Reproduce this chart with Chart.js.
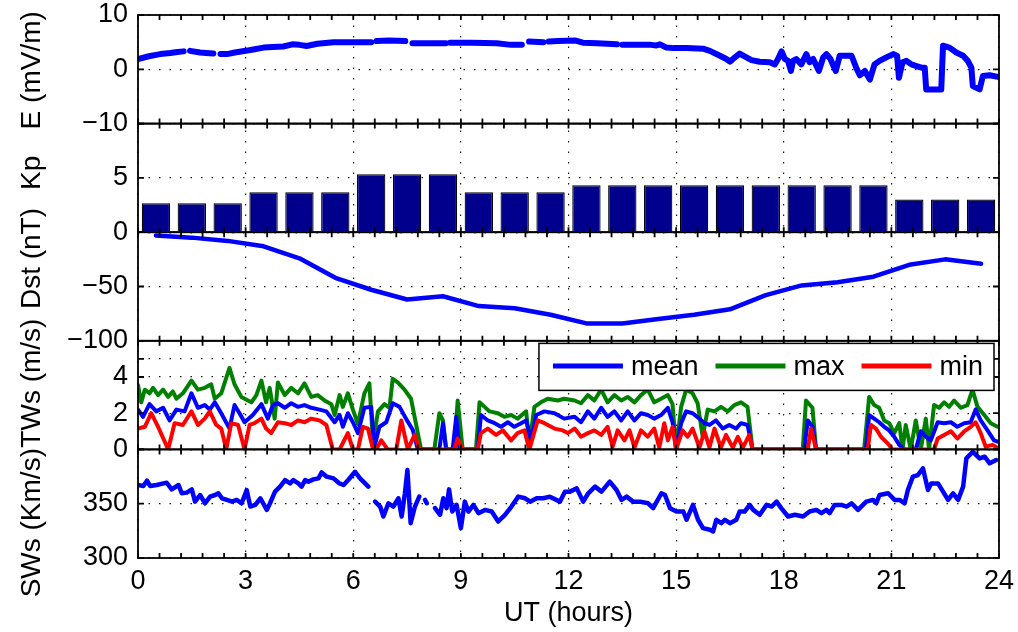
<!DOCTYPE html>
<html>
<head>
<meta charset="utf-8">
<title>E, Kp, Dst, TWs, SWs</title>
<script src="https://cdn.jsdelivr.net/npm/chart.js@4/dist/chart.umd.min.js"></script>
<style>
  html, body { margin: 0; padding: 0; background: #fff; }
  #wrap { width: 1018px; height: 632px; }
</style>
</head>
<body>
<div id="wrap"><canvas id="chart" width="1018" height="632"></canvas></div>
<script>
// x axis (UT hours)
const xTicks = [0, 3, 6, 9, 12, 15, 18, 21, 24];
const minorStep = 0.6;

// electric field, [hour, mV/m], null = data gap
const eField = [
  [0, 1.9], [0.3, 2.4], [0.62, 2.8], [0.9, 3.0], [1.1, 3.2], [1.27, 3.3], [1.33, null], [1.45, 3.4],
  [1.73, 3.1], [1.9, 3.0], [2.1, 2.9], [2.2, null], [2.3, 2.8], [2.48, 2.8], [2.7, 3.1], [3.0, 3.4],
  [3.25, 3.7], [3.5, 4.0], [3.75, 4.1], [4.05, 4.2], [4.3, 4.6], [4.5, 4.5], [4.7, 4.3], [5.0, 4.7],
  [5.45, 5.0], [6.0, 5.0], [6.5, 5.0], [6.58, null], [6.65, 5.2], [7.0, 5.3], [7.45, 5.2], [7.55, null],
  [7.65, 4.8], [8.2, 4.8], [8.58, 4.8], [8.64, null], [8.7, 4.9], [9.3, 4.9], [10.0, 4.8], [10.4, 4.5],
  [10.7, 4.5], [10.78, null], [10.9, 5.1], [11.3, 5.0], [11.38, null], [11.45, 5.1], [11.7, 5.2], [12.2, 5.3],
  [12.4, 4.9], [12.8, 4.8], [13.35, 4.6], [13.42, null], [13.5, 4.5], [14.3, 4.5], [14.45, 4.4], [14.55, 4.6],
  [14.73, 4.0], [14.92, 3.9], [15.3, 3.9], [15.75, 3.8], [15.94, 3.4], [16.22, 2.5], [16.4, 1.9], [16.5, 1.4],
  [16.64, 2.2], [16.77, 2.9], [16.96, 2.2], [17.1, 1.7], [17.33, 1.4], [17.61, 1.3], [17.75, 0.9], [17.84, 1.9],
  [17.94, 3.3], [18.03, 1.9], [18.12, 1.55], [18.2, -0.3], [18.26, 1.55], [18.35, 1.9], [18.49, 0.9], [18.63, 2.8],
  [18.72, 1.3], [18.82, 1.9], [18.98, -0.3], [19.1, 2.2], [19.19, 2.8], [19.3, 1.9], [19.45, -0.3], [19.56, 2.5],
  [19.75, 2.5], [19.89, 2.5], [20.02, 0.3], [20.12, -1.1], [20.26, -0.3], [20.4, -1.9], [20.53, 0.9], [20.67, 1.55],
  [20.86, 2.2], [21.05, 2.8], [21.16, 2.5], [21.21, -1.55], [21.31, 1.3], [21.42, 1.55], [21.56, 0.9], [21.7, 0.6],
  [21.84, 0.3], [21.93, 0.3], [21.97, -3.7], [22.39, -3.7], [22.44, 4.35], [22.62, 4.0], [22.81, 3.1], [23.0, 2.5],
  [23.13, 1.55], [23.23, 0.3], [23.27, -3.1], [23.46, -3.7], [23.55, -1.25], [23.74, -1.1], [23.97, -1.4]
];

// hourly Kp and Dst
const hourMid = [0.5, 1.5, 2.5, 3.5, 4.5, 5.5, 6.5, 7.5, 8.5, 9.5, 10.5, 11.5,
                 12.5, 13.5, 14.5, 15.5, 16.5, 17.5, 18.5, 19.5, 20.5, 21.5, 22.5, 23.5];
const kpValues = [2.67, 2.67, 2.67, 3.67, 3.67, 3.67, 5.33, 5.33, 5.33, 3.67, 3.67, 3.67,
                  4.33, 4.33, 4.33, 4.33, 4.33, 4.33, 4.33, 4.33, 4.33, 3, 3, 3];
const dstValues = [-3, -5, -8, -13, -24, -42, -53, -62, -59, -68, -70, -76,
                   -84, -84, -80, -76, -71, -58, -49, -46, -41, -30, -25, -29];

// TWs (m/s), [hour, value]
const twsMean = [
  [0, 2.2], [0.14, 1.8], [0.32, 2.5], [0.51, 2.1], [0.7, 2.3], [0.88, 1.6], [1.07, 2.2], [1.3, 2.1],
  [1.49, 3.1], [1.67, 2.3], [1.86, 2.45], [2.0, 2.2], [2.14, 2.6], [2.32, 2.0], [2.55, 1.15], [2.69, 2.45],
  [2.83, 2.0], [2.97, 1.5], [3.2, 1.9], [3.44, 2.5], [3.62, 1.7], [3.76, 2.45], [3.9, 2.55], [4.09, 2.3],
  [4.27, 2.55], [4.46, 2.35], [4.64, 2.45], [4.83, 2.3], [5.06, 2.2], [5.25, 2.1], [5.48, 1.5], [5.62, 1.9],
  [5.71, 1.25], [5.85, 2.0], [5.99, 1.5], [6.13, 0.9], [6.31, 2.3], [6.5, 2.35], [6.59, 0.15], [6.73, 1.25],
  [6.92, 1.5], [7.1, 2.55], [7.29, 2.35], [7.47, 1.7], [7.66, 1.07], [7.8, 0], [8.4, 0], [8.5, 1.45],
  [8.59, 0], [8.77, 0], [8.87, 1.8], [8.96, 0], [9.47, 0], [9.56, 1.9], [9.75, 1.6], [9.94, 1.45],
  [10.12, 1.25], [10.31, 1.5], [10.49, 1.25], [10.68, 1.45], [10.82, 1.6], [10.96, 0.5], [11.1, 1.9], [11.33, 2.1],
  [11.61, 2.0], [11.88, 1.7], [12.17, 1.8], [12.35, 1.5], [12.54, 2.1], [12.72, 1.7], [12.91, 2.3], [13.09, 1.8],
  [13.28, 2.1], [13.47, 1.6], [13.65, 2.1], [13.84, 1.6], [14.02, 2.0], [14.21, 1.9], [14.39, 1.7], [14.58, 1.9],
  [14.77, 2.3], [14.9, 1.5], [15.0, 0], [15.14, 1.45], [15.28, 2.1], [15.46, 2.0], [15.65, 1.7], [15.79, 1.45],
  [15.93, 1.35], [16.11, 1.6], [16.3, 1.15], [16.48, 1.35], [16.67, 1.15], [16.81, 1.45], [16.99, 1.35], [17.13, 0],
  [18.57, 0], [18.67, 1.6], [18.8, 1.25], [18.9, 0], [20.29, 0], [20.38, 1.9], [20.52, 1.7], [20.66, 1.5],
  [20.8, 1.25], [20.94, 1.05], [21.08, 0.7], [21.22, 0.25], [21.36, 0], [21.68, 0], [21.82, 1.0], [21.96, 0.7],
  [22.1, 0.5], [22.29, 1.5], [22.47, 1.45], [22.66, 1.5], [22.84, 1.25], [23.03, 1.45], [23.21, 1.5], [23.35, 2.2],
  [23.49, 1.6], [23.68, 1.05], [23.86, 0.5], [24, 0.4]
];
const twsMax = [
  [0, 3.55], [0.09, 2.6], [0.19, 3.3], [0.32, 3.1], [0.42, 3.4], [0.56, 3.0], [0.7, 3.3], [0.84, 2.9],
  [0.97, 3.2], [1.07, 2.8], [1.25, 3.1], [1.49, 3.8], [1.67, 3.3], [1.86, 3.4], [2.04, 3.6], [2.14, 2.8],
  [2.32, 3.1], [2.55, 4.5], [2.69, 3.6], [2.88, 2.9], [3.16, 2.6], [3.3, 3.0], [3.44, 3.8], [3.57, 2.6],
  [3.67, 3.4], [3.81, 1.7], [3.9, 3.7], [4.09, 3.0], [4.27, 3.4], [4.46, 3.1], [4.64, 3.65], [4.83, 2.9],
  [5.01, 3.0], [5.2, 2.7], [5.39, 2.5], [5.48, 1.9], [5.62, 3.0], [5.71, 2.35], [5.85, 3.1], [5.99, 2.2],
  [6.13, 1.4], [6.31, 3.1], [6.45, 3.65], [6.55, 0.4], [6.69, 2.1], [6.87, 2.5], [7.01, 2.3], [7.1, 3.9],
  [7.24, 3.7], [7.43, 3.3], [7.61, 2.8], [7.75, 1.4], [7.89, 0], [8.26, 0], [8.4, 2.0], [8.5, 1.6],
  [8.59, 0], [8.82, 0], [8.91, 2.7], [9.05, 0], [9.42, 0], [9.52, 2.6], [9.66, 2.35], [9.8, 2.1],
  [10.03, 2.0], [10.21, 1.8], [10.4, 1.9], [10.58, 1.7], [10.82, 2.1], [10.91, 0.3], [11.05, 2.35], [11.23, 2.6],
  [11.42, 2.8], [11.7, 2.7], [11.88, 2.8], [12.17, 2.7], [12.35, 2.55], [12.54, 3.0], [12.72, 2.7], [12.91, 3.3],
  [13.09, 2.6], [13.28, 3.0], [13.47, 2.7], [13.65, 2.9], [13.84, 2.6], [14.02, 3.0], [14.21, 3.3], [14.39, 2.6],
  [14.58, 2.8], [14.77, 3.0], [14.9, 2.5], [15.0, 0], [15.14, 2.35], [15.28, 3.3], [15.46, 3.1], [15.6, 2.55],
  [15.74, 0.7], [15.88, 2.2], [16.07, 2.1], [16.25, 2.35], [16.44, 2.1], [16.62, 2.45], [16.81, 2.6], [16.99, 2.35],
  [17.13, 0], [18.53, 0], [18.62, 2.7], [18.8, 2.3], [18.9, 0], [20.24, 0], [20.38, 2.9], [20.52, 2.45],
  [20.66, 2.3], [20.8, 1.6], [20.94, 1.45], [21.08, 0.9], [21.22, 1.45], [21.31, 0], [21.4, 1.35], [21.54, 0],
  [21.68, 1.6], [21.82, 0], [21.96, 1.7], [22.05, 0], [22.19, 2.45], [22.33, 2.3], [22.47, 2.6], [22.61, 2.35],
  [22.75, 2.7], [22.94, 2.3], [23.12, 2.45], [23.26, 3.3], [23.4, 2.35], [23.59, 1.9], [23.77, 1.45], [23.96, 1.25]
];
const twsMin = [
  [0, 1.15], [0.19, 1.25], [0.37, 2.0], [0.56, 1.25], [0.84, 0], [1.02, 1.45], [1.25, 1.35], [1.49, 2.1],
  [1.67, 1.35], [1.86, 1.7], [2.0, 2.1], [2.18, 1.35], [2.32, 1.15], [2.46, 0], [2.6, 1.45], [2.79, 1.35],
  [2.97, 0], [3.11, 1.35], [3.25, 1.45], [3.44, 1.7], [3.57, 1.15], [3.71, 0.9], [3.9, 1.5], [4.09, 1.45],
  [4.27, 1.35], [4.46, 1.6], [4.64, 1.5], [4.83, 1.7], [5.06, 1.6], [5.25, 1.35], [5.43, 0], [5.62, 0],
  [5.85, 0.9], [5.99, 0], [6.13, 0], [6.27, 1.25], [6.41, 1.15], [6.55, 0], [6.64, 0], [6.78, 0.5],
  [6.96, 0], [7.2, 0], [7.34, 1.6], [7.52, 0], [7.71, 0.8], [7.85, 0], [8.82, 0], [8.91, 0.6],
  [9.05, 0], [9.47, 0], [9.56, 0.9], [9.75, 1.15], [9.98, 0.8], [10.17, 1.05], [10.4, 0.5], [10.58, 0.9],
  [10.77, 1.05], [10.91, 0], [11.14, 1.6], [11.33, 1.45], [11.61, 1.15], [11.84, 1.05], [11.98, 0.9], [12.17, 1.15],
  [12.35, 0.7], [12.54, 0.9], [12.72, 1.05], [12.91, 0.8], [13.09, 1.25], [13.23, 0.15], [13.37, 1.05], [13.56, 0.5],
  [13.7, 1.05], [13.84, 0.1], [14.02, 1.05], [14.21, 0.7], [14.39, 1.15], [14.53, 0.1], [14.67, 1.45], [14.77, 0.5],
  [14.9, 1.25], [15.0, 0], [15.18, 1.05], [15.32, 0.7], [15.46, 1.15], [15.65, 0.1], [15.79, 1.0], [15.93, 0.1],
  [16.07, 1.15], [16.25, 0.1], [16.39, 0.8], [16.58, 0.1], [16.72, 0.7], [16.86, 0.1], [17.04, 0.8], [17.13, 0],
  [18.67, 0], [18.76, 1.15], [18.9, 0], [20.34, 0], [20.43, 1.35], [20.57, 1.15], [20.71, 0.7], [20.89, 0.35],
  [21.03, 0], [22.19, 0], [22.29, 0.6], [22.47, 0.8], [22.66, 1.0], [22.84, 0.6], [23.03, 1.0], [23.21, 1.25],
  [23.35, 1.5], [23.49, 0.9], [23.63, 0.15], [23.82, 0.25], [24, 0.05]
];

// solar wind speed (km/s), [hour, value], null = data gap
const swSpeed = [
  [0, 367.2], [0.15, 366.3], [0.25, 371.2], [0.34, 366.3], [0.52, 367.2], [0.71, 368.7], [0.8, 369.3], [0.94, 363.2],
  [1.13, 367.2], [1.22, 359.6], [1.36, 360.2], [1.5, 363.2], [1.59, 351.9], [1.73, 358.0], [1.87, 350.4], [2.01, 356.5],
  [2.15, 358.0], [2.24, 359.6], [2.34, 355.0], [2.48, 353.5], [2.62, 351.9], [2.75, 353.5], [2.89, 350.4], [3.03, 362.6],
  [3.13, 347.4], [3.27, 348.9], [3.41, 355.0], [3.59, 344.3], [3.68, 350.4], [3.82, 361.1], [3.96, 365.7], [4.1, 371.8],
  [4.24, 368.7], [4.33, 371.8], [4.47, 368.7], [4.56, 365.7], [4.66, 371.8], [4.75, 370.3], [4.89, 372.4], [5.03, 373.3],
  [5.12, 378.8], [5.26, 374.9], [5.45, 373.3], [5.6, 369.0], [5.73, 367.2], [5.86, 371.8], [6.05, 379.4], [6.19, 373.3],
  [6.42, 365.7], [6.5, null], [6.61, 351.9], [6.75, 347.4], [6.84, 338.2], [6.98, 350.4], [7.12, 347.4], [7.26, 355.0],
  [7.35, 338.2], [7.44, 359.6], [7.51, 381.0], [7.6, 332.1], [7.72, 347.4], [7.84, 356.5], [7.92, null], [8.0, 353.5],
  [8.05, 350.4], [8.12, null], [8.28, 345.9], [8.42, 339.8], [8.51, 355.0], [8.6, 345.9], [8.67, 363.2], [8.76, 342.8],
  [8.88, 348.9], [9.0, 327.5], [9.11, 351.9], [9.21, 342.8], [9.35, 348.9], [9.49, 341.3], [9.67, 344.3], [9.86, 342.8],
  [10.04, 333.6], [10.23, 339.8], [10.41, 347.4], [10.6, 356.5], [10.79, 355.0], [10.93, 351.9], [11.11, 355.0], [11.3, 355.0],
  [11.48, 356.5], [11.76, 351.9], [11.9, 361.1], [12.04, 361.1], [12.23, 364.1], [12.41, 351.9], [12.55, 359.6], [12.74, 365.7],
  [12.92, 361.1], [13.15, 370.3], [13.34, 362.6], [13.48, 353.5], [13.62, 356.5], [13.8, 351.9], [13.99, 351.9], [14.22, 350.4],
  [14.36, 345.9], [14.59, 359.6], [14.69, 358.0], [14.83, 345.9], [15.01, 342.8], [15.2, 342.8], [15.29, 335.2], [15.47, 348.9],
  [15.61, 335.2], [15.75, 327.5], [15.94, 326.0], [16.03, 324.5], [16.12, 335.2], [16.26, 332.1], [16.36, 335.2], [16.5, 332.1],
  [16.68, 335.2], [16.77, 342.8], [16.91, 342.8], [17.05, 348.9], [17.15, 344.3], [17.33, 339.8], [17.52, 348.9], [17.66, 347.4],
  [17.8, 351.9], [17.93, 345.9], [18.12, 338.2], [18.31, 339.8], [18.54, 338.2], [18.72, 342.8], [18.91, 344.3], [19.05, 341.3],
  [19.19, 344.3], [19.28, 341.3], [19.42, 348.9], [19.61, 348.9], [19.75, 347.4], [19.89, 350.4], [20.07, 344.3], [20.3, 351.9],
  [20.49, 353.5], [20.58, 350.4], [20.67, 358.0], [20.91, 359.6], [21.09, 353.5], [21.23, 353.5], [21.37, 350.4], [21.46, 362.6],
  [21.6, 374.9], [21.74, 376.4], [21.88, 382.6], [22.02, 362.6], [22.11, 368.7], [22.3, 368.7], [22.44, 361.1], [22.58, 353.5],
  [22.72, 359.6], [22.86, 353.5], [23.0, 365.7], [23.09, 391.7], [23.27, 397.8], [23.46, 391.7], [23.6, 393.3], [23.74, 387.2],
  [23.92, 390.2]
];

// y axes, top to bottom
const eTicks = [-10, 0, 10], eLabels = ['\u221210', '0', '10'];
const kpTicks = [0, 5, 10], kpLabels = ['', '5', ''];
const dstTicks = [-100, -50, 0], dstLabels = ['\u2212100', '\u221250', '0'];
const twsTicks = [0, 2, 4, 5, 6], twsLabels = ['0', '2', '4', '', ''];
const swTicks = [300, 350, 400], swLabels = ['300', '350', ''];
const legendLabels = ['mean', 'max', 'min'];

const FONT = '"Liberation Sans", Arial, Helvetica, sans-serif';
Chart.defaults.font.family = FONT;
Chart.defaults.color = '#000';

const pts = (arr) => arr.map(([x, y]) => ({ x, y }));

function panel(ticks, labels, min, max, title, shift) {
  return {
    type: 'linear',
    position: 'left',
    stack: 'panels',
    stackWeight: 1,
    min: min,
    max: max,
    panelTitle: title,
    titleShift: shift,
    panelTicks: ticks,
    afterBuildTicks: (s) => { s.ticks = ticks.map((v) => ({ value: v })); },
    afterFit: (s) => { s.width = 138; s.paddingTop = 0; s.paddingBottom = 0; },
    ticks: {
      autoSkip: false,
      padding: 10,
      font: { size: 27 },
      color: '#000',
      callback: (v) => labels[ticks.indexOf(v)],
    },
    grid: { drawTicks: false, color: 'rgba(0,0,0,0.9)', lineWidth: 1.2 },
    border: { display: false, dash: [1.5, 9] },
  };
}

// frame, inward ticks, y titles and the legend box
const decor = {
  id: 'decor',
  afterDraw(chart) {
    const { ctx, chartArea: a, scales } = chart;
    const xs = scales.x;
    const ids = ['yE', 'yKp', 'yDst', 'yTW', 'ySW'];
    ctx.save();
    ctx.strokeStyle = '#000';
    ctx.lineWidth = 1.8;
    ids.forEach((id) => {
      const s = scales[id];
      ctx.strokeRect(a.left, s.top, a.right - a.left, s.bottom - s.top);
      ctx.beginPath();
      for (let h = 0; h <= 24.001; h += minorStep) {
        const px = xs.getPixelForValue(h);
        ctx.moveTo(px, s.top); ctx.lineTo(px, s.top + 5);
        ctx.moveTo(px, s.bottom); ctx.lineTo(px, s.bottom - 5);
      }
      s.options.panelTicks.forEach((v) => {
        const py = s.getPixelForValue(v);
        ctx.moveTo(a.left, py); ctx.lineTo(a.left + 6, py);
        ctx.moveTo(a.right, py); ctx.lineTo(a.right - 6, py);
      });
      ctx.stroke();
      // rotated axis title
      ctx.save();
      ctx.translate(32, (s.top + s.bottom) / 2 + s.options.titleShift);
      ctx.rotate(-Math.PI / 2);
      ctx.fillStyle = '#000';
      ctx.font = '28px ' + FONT;
      ctx.textAlign = 'center';
      ctx.textBaseline = 'middle';
      ctx.fillText(s.options.panelTitle, 0, 0);
      ctx.restore();
    });

    // legend inside the TWs panel
    const tw = scales.yTW;
    const items = legendLabels.map((l) => chart.data.datasets.find((d) => d.label === l));
    ctx.font = '27px ' + FONT;
    const widths = items.map((d) => ctx.measureText(d.label).width);
    const boxW = 14 + widths.reduce((p, w) => p + 78 + w, 0) + 17 * (items.length - 1) + 11;
    const right = a.right - 5, top = tw.top + 2.6, h = 47;
    const left = right - boxW;
    ctx.fillStyle = '#fff';
    ctx.fillRect(left, top, boxW, h);
    ctx.lineWidth = 1.5;
    ctx.strokeRect(left, top, boxW, h);
    let x = left + 14;
    const cy = top + h / 2;
    items.forEach((d, i) => {
      ctx.strokeStyle = d.borderColor;
      ctx.lineWidth = 5;
      ctx.beginPath(); ctx.moveTo(x, cy - 1); ctx.lineTo(x + 70, cy - 1); ctx.stroke();
      ctx.fillStyle = '#000';
      ctx.textAlign = 'left';
      ctx.textBaseline = 'middle';
      ctx.fillText(d.label, x + 78, cy + 1);
      x += 78 + widths[i] + 17;
    });
    ctx.restore();
  },
};

const lineBase = {
  pointRadius: 0, tension: 0, spanGaps: false, fill: false,
  borderJoinStyle: 'round', borderCapStyle: 'round',
};

new Chart(document.getElementById('chart').getContext('2d'), {
  type: 'line',
  data: {
    datasets: [
      { ...lineBase, label: 'E', data: pts(eField), yAxisID: 'yE', borderColor: '#0000ff', borderWidth: 6 },
      {
        type: 'bar', label: 'Kp', yAxisID: 'yKp',
        data: hourMid.map((x, i) => ({ x, y: kpValues[i] })),
        backgroundColor: '#00008c', borderColor: '#000', borderWidth: 1.2,
        categoryPercentage: 1, barPercentage: 0.79,
      },
      { ...lineBase, label: 'Dst', data: hourMid.map((x, i) => ({ x, y: dstValues[i] })), yAxisID: 'yDst', borderColor: '#0000ff', borderWidth: 4.5 },
      { ...lineBase, label: 'mean', data: pts(twsMean), yAxisID: 'yTW', borderColor: '#0000ff', borderWidth: 4, order: 2 },
      { ...lineBase, label: 'max', data: pts(twsMax), yAxisID: 'yTW', borderColor: '#008000', borderWidth: 4, order: 3 },
      { ...lineBase, label: 'min', data: pts(twsMin), yAxisID: 'yTW', borderColor: '#ff0000', borderWidth: 4, order: 1 },
      { ...lineBase, label: 'SWs', data: pts(swSpeed), yAxisID: 'ySW', borderColor: '#0000ff', borderWidth: 4.5 },
    ],
  },
  options: {
    responsive: false,
    animation: false,
    events: [],
    layout: { padding: { left: 0, right: 19, top: 15, bottom: 0 } },
    plugins: { legend: { display: false }, tooltip: { enabled: false } },
    scales: {
      x: {
        type: 'linear', position: 'bottom', min: 0, max: 24, offset: false,
        afterBuildTicks: (s) => { s.ticks = xTicks.map((v) => ({ value: v })); },
        afterFit: (s) => { s.height = 74; s.paddingLeft = 0; s.paddingRight = 0; },
        ticks: { autoSkip: false, maxRotation: 0, padding: 7, font: { size: 27 }, color: '#000' },
        grid: { drawTicks: false, offset: false, color: 'rgba(0,0,0,0.9)', lineWidth: 1.2 },
        border: { display: false, dash: [1.5, 9] },
        title: { display: true, text: 'UT (hours)', font: { size: 27 }, color: '#000', padding: { top: 0, bottom: 2 } },
      },
      // stacked left axes: listed bottom to top
      ySW: panel(swTicks, swLabels, 300, 400, 'SWs (Km/s)', 19),
      yTW: panel(twsTicks, twsLabels, 0, 6, 'TWs (m/s)', -12),
      yDst: panel(dstTicks, dstLabels, -100, 0, 'Dst (nT)', -28),
      yKp: panel(kpTicks, kpLabels, 0, 10, 'Kp', -5),
      yE: panel(eTicks, eLabels, -10, 10, 'E (mV/m)', 1),
    },
  },
  plugins: [decor],
});
</script>
</body>
</html>
